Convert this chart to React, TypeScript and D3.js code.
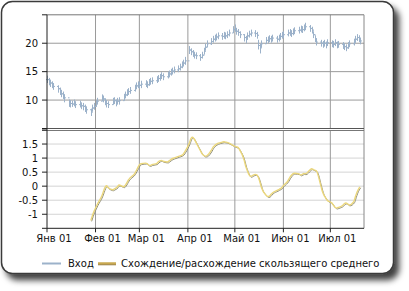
import React from "react";
import * as d3 from "d3";

// ---------- DATA ----------
const startDate = new Date(2007, 0, 1);
const endDate = new Date(2007, 6, 21);
const monthTicks = ["Янв 01", "Фев 01", "Мар 01", "Апр 01", "Май 01", "Июн 01", "Июл 01"];
const topTicks = [10, 15, 20];
const bottomTicks = [-1, -0.5, 0, 0.5, 1, 1.5];

// Input series (trading days), high / low / close
const highs = [
  14.3, 13.9, 13.6, 13.3, 13.0, 12.6, 12.2, 11.8, 11.5, 11.0,
  10.1, 10.0, 9.9, 10.1, 9.8, 9.9, 9.6, 9.5, 9.2, 8.9,
  8.5, 9.2, 9.5, 10.0, 10.4, 11.0, 10.8, 10.3, 10.0, 9.8,
  10.4, 10.5, 10.1, 10.4, 10.5, 11.1, 11.5, 11.9, 12.1, 12.3,
  12.7, 13.1, 13.3, 13.2, 13.4, 13.5, 13.3, 13.7, 13.9, 14.0,
  14.2, 14.4, 14.6, 14.9, 14.7, 15.0, 15.2, 15.5, 15.7, 15.9,
  16.1, 16.4, 16.8, 17.1, 17.6, 19.5, 19.1, 18.8, 18.5, 18.4,
  18.1, 18.5, 19.2, 19.9, 20.5, 20.9, 21.3, 21.5, 21.7, 21.9,
  21.8, 22.0, 21.9, 22.1, 22.4, 23.0, 23.3, 22.7, 22.5, 22.1,
  21.6, 21.3, 21.9, 22.2, 22.4, 22.3, 22.0, 20.6, 19.9, 20.5,
  21.1, 21.2, 21.4, 21.3, 21.5, 21.3, 21.5, 21.8, 22.0, 22.1,
  22.4, 22.5, 22.3, 22.6, 22.8, 22.9, 23.1, 23.0, 23.3, 23.6,
  23.2, 22.9, 22.1, 21.4, 20.8, 20.6, 20.4, 20.6, 20.3, 20.7,
  20.5, 20.4, 20.7, 20.3, 20.4, 20.2, 20.0, 19.8, 20.2, 20.5,
  20.8, 21.3, 21.6, 21.4, 21.0,
];
const lows = [
  13.0, 12.6, 12.3, 12.1, 11.8, 11.3, 10.9, 10.5, 10.2, 9.6,
  8.8, 8.7, 8.8, 8.9, 8.6, 8.7, 8.4, 8.2, 7.9, 7.6,
  7.2, 8.0, 8.3, 8.8, 9.2, 9.8, 9.6, 9.1, 8.7, 8.6,
  9.2, 9.3, 8.9, 9.2, 9.2, 9.9, 10.3, 10.7, 10.9, 11.1,
  11.5, 11.9, 12.1, 12.0, 12.1, 12.3, 12.1, 12.5, 12.7, 12.8,
  13.0, 13.2, 13.4, 13.7, 13.5, 13.8, 14.0, 14.3, 14.5, 14.7,
  14.9, 15.2, 15.6, 15.9, 16.2, 18.1, 17.9, 17.6, 17.3, 17.2,
  16.9, 17.3, 18.0, 18.7, 19.3, 19.7, 20.1, 20.3, 20.5, 20.7,
  20.6, 20.8, 20.7, 20.9, 21.2, 21.8, 22.0, 21.5, 21.3, 20.9,
  20.3, 20.0, 20.7, 21.0, 21.2, 21.1, 20.8, 18.9, 18.2, 19.3,
  19.9, 20.0, 20.2, 20.1, 20.3, 20.1, 20.3, 20.6, 20.8, 20.9,
  21.2, 21.3, 21.1, 21.4, 21.6, 21.7, 21.9, 21.8, 22.1, 22.3,
  22.0, 21.7, 20.9, 20.2, 19.6, 19.4, 19.2, 19.4, 19.1, 19.5,
  19.3, 19.2, 19.5, 19.1, 19.2, 19.0, 18.8, 18.6, 19.0, 19.3,
  19.6, 20.1, 20.4, 20.2, 19.8,
];
const closes = [
  13.6, 13.3, 13.0, 12.8, 12.4, 12.0, 11.6, 11.1, 10.9, 10.4,
  9.6, 9.4, 9.3, 9.5, 9.2, 9.3, 9.0, 8.9, 8.6, 8.3,
  7.9, 8.6, 8.9, 9.4, 9.8, 10.4, 10.2, 9.7, 9.4, 9.2,
  9.8, 9.9, 9.5, 9.8, 9.9, 10.5, 10.9, 11.3, 11.5, 11.7,
  12.1, 12.5, 12.7, 12.6, 12.8, 12.9, 12.7, 13.1, 13.3, 13.4,
  13.6, 13.8, 14.0, 14.3, 14.1, 14.4, 14.6, 14.9, 15.1, 15.3,
  15.5, 15.8, 16.2, 16.5, 16.9, 18.8, 18.5, 18.2, 17.9, 17.8,
  17.5, 17.9, 18.6, 19.3, 19.9, 20.3, 20.7, 20.9, 21.1, 21.3,
  21.2, 21.4, 21.3, 21.5, 21.8, 22.4, 22.6, 22.1, 21.9, 21.5,
  21.0, 20.7, 21.3, 21.6, 21.8, 21.7, 21.4, 19.6, 19.2, 19.9,
  20.5, 20.6, 20.8, 20.7, 20.9, 20.7, 20.9, 21.2, 21.4, 21.5,
  21.8, 21.9, 21.7, 22.0, 22.2, 22.3, 22.5, 22.4, 22.7, 22.9,
  22.6, 22.3, 21.5, 20.8, 20.2, 20.0, 19.8, 20.0, 19.7, 20.1,
  19.9, 19.8, 20.1, 19.7, 19.8, 19.6, 19.4, 19.2, 19.6, 19.9,
  20.2, 20.7, 21.0, 20.8, 20.4,
];

// Moving-average convergence/divergence, starting at trading day index 20 (Jan 29)
const macdStartIndex = 20;
const macdValues = [
  -1.22, -1.05, -0.9, -0.78, -0.66,
  -0.35, -0.2, -0.05, 0.02, -0.05,
  -0.13, -0.1, -0.07, -0.02, 0.04,
  -0.02, 0.03, 0.12, 0.22, 0.29,
  0.45, 0.55, 0.66, 0.76, 0.8,
  0.82, 0.8, 0.75, 0.74, 0.77,
  0.8, 0.86, 0.9, 0.92, 0.89,
  0.86, 0.9, 0.94, 0.98, 1.0,
  1.06, 1.08, 1.1, 1.14, 1.22,
  1.55, 1.7, 1.74, 1.68, 1.58,
  1.26, 1.16, 1.1, 1.07, 1.08,
  1.28, 1.38, 1.44, 1.49, 1.52,
  1.57, 1.58, 1.57, 1.56, 1.54,
  1.45, 1.42, 1.4, 1.38, 1.3,
  0.92, 0.7, 0.55, 0.42, 0.35,
  0.42, 0.4, 0.32, 0.15, -0.05,
  -0.32, -0.37, -0.36, -0.3, -0.24,
  -0.15, -0.12, -0.09, -0.05, 0.02,
  0.2, 0.3, 0.38, 0.44, 0.46,
  0.44, 0.4, 0.42, 0.45, 0.44,
  0.58, 0.62, 0.6, 0.57, 0.55,
  0.0, -0.2, -0.33, -0.42, -0.5,
  -0.6, -0.68, -0.75, -0.78, -0.76,
  -0.68, -0.62, -0.6, -0.63, -0.67,
  -0.55, -0.38, -0.22, -0.1, -0.03,
];

const legendLabels = ["Вход", "Схождение/расхождение скользящего среднего"];

// ---------- LAYOUT ----------
const W = 409;
const H = 291;
const left = 47;
const right = 364;
const topY0 = 14.8;
const topY1 = 128.5;
const botY0 = 130.5;
const botY1 = 228.3;
const FONT = "'DejaVu Sans', Verdana, sans-serif";

export default function App() {
  const days = d3
    .timeDay.range(startDate, d3.timeDay.offset(endDate, 0))
    .filter((d) => d.getDay() !== 0 && d.getDay() !== 6);

  const x = d3
    .scaleTime()
    .domain([startDate, new Date(2007, 6, 22, 12)])
    .range([left, right]);
  const yTop = d3.scaleLinear().domain([5, 25]).range([topY1, topY0]);
  const yBot = d3.scaleLinear().domain([-1.5, 2]).range([botY1, botY0 - 0.5]);

  const months = d3.timeMonth.range(startDate, new Date(2007, 7, 1)).slice(0, monthTicks.length);

  const macdPts = macdValues.map((v, i) => [days[macdStartIndex + i], v] as [Date, number]);
  const line = d3
    .line<[Date, number]>()
    .x((d) => x(d[0]))
    .y((d) => yBot(d[1]))
    .curve(d3.curveMonotoneX);
  const macdPath = line(macdPts) || "";

  const gridDark = "#9a9a9a";
  const gridLight = "#d4d4d4";
  const axis = "#202020";
  const inputColor = "#9cb2ca";

  return (
    <svg
      width={W}
      height={H}
      style={{ position: "absolute", left: 0, top: 0 }}
      fontFamily={FONT}
    >
      <defs>
        <filter id="shadow" x="-5%" y="-5%" width="115%" height="120%">
          <feDropShadow dx="5" dy="6" stdDeviation="3" floodColor="#000" floodOpacity="0.75" />
        </filter>
      </defs>
      <rect x={1.5} y={1.5} width={392} height={272} rx={11} fill="#fff" stroke="#3a3a3a" strokeWidth={1.5} filter="url(#shadow)" />

      {/* top panel grid */}
      {topTicks.map((t) => (
        <line key={"tg" + t} x1={left} x2={right} y1={yTop(t)} y2={yTop(t)} stroke={gridDark} strokeWidth={1} />
      ))}
      {/* bottom panel grid */}
      {bottomTicks.map((t) => (
        <line key={"bg" + t} x1={left} x2={right} y1={yBot(t)} y2={yBot(t)} stroke={gridLight} strokeWidth={1} />
      ))}
      {months.slice(1).map((m, i) => (
        <g key={"vg" + i}>
          <line x1={x(m)} x2={x(m)} y1={topY0} y2={topY1} stroke={gridDark} strokeWidth={1} />
          <line x1={x(m)} x2={x(m)} y1={botY0} y2={botY1} stroke={gridDark} strokeWidth={1} />
        </g>
      ))}

      {/* panel borders */}
      <line x1={left} x2={right} y1={topY0} y2={topY0} stroke="#777" strokeWidth={1} />
      <line x1={right} x2={right} y1={topY0} y2={botY1} stroke="#888" strokeWidth={1} />
      <line x1={left - 5} x2={right} y1={topY1} y2={topY1} stroke="#555" strokeWidth={1} />
      <line x1={left - 5} x2={right} y1={botY0} y2={botY0} stroke="#777" strokeWidth={1} />

      {/* input series */}
      <g stroke={inputColor} strokeWidth={1}>
        {days.map((d, i) => {
          const cx = Math.round(x(d)) + 0.5;
          const prev = i > 0 ? closes[i - 1] : closes[i];
          return (
            <g key={"b" + i}>
              <line x1={cx} x2={cx} y1={yTop(highs[i])} y2={yTop(lows[i])} />
              <line x1={cx - 1.5} x2={cx} y1={yTop(prev)} y2={yTop(prev)} />
              <line x1={cx} x2={cx + 1.5} y1={yTop(closes[i])} y2={yTop(closes[i])} />
            </g>
          );
        })}
      </g>

      {/* macd */}
      <path d={macdPath} fill="none" stroke="#8e8c78" strokeWidth={1} transform="translate(0.8,0.9)" />
      <path d={macdPath} fill="none" stroke="#ebd77c" strokeWidth={1.4} />

      {/* axes */}
      <line x1={left} x2={left} y1={topY0} y2={botY1} stroke={axis} strokeWidth={1} />
      <line x1={left} x2={right} y1={botY1} y2={botY1} stroke={axis} strokeWidth={1} />
      {[5, ...topTicks, 25].map((t) => (
        <line key={"tt" + t} x1={left - 5} x2={left} y1={yTop(t)} y2={yTop(t)} stroke={axis} />
      ))}
      {[-1.5, ...bottomTicks, 2].map((t) => (
        <line key={"bt" + t} x1={left - 5} x2={left} y1={yBot(t)} y2={yBot(t)} stroke={axis} />
      ))}
      {topTicks.map((t) => (
        <text key={"tl" + t} x={38} y={yTop(t)} dy="0.36em" textAnchor="end" fontSize={10} fill="#111">
          {t}
        </text>
      ))}
      {bottomTicks.map((t) => (
        <text key={"bl" + t} x={38} y={yBot(t)} dy="0.36em" textAnchor="end" fontSize={10} fill="#111">
          {t}
        </text>
      ))}
      {months.map((m, i) => (
        <g key={"xl" + i}>
          <line x1={x(m)} x2={x(m)} y1={botY1} y2={botY1 + 4} stroke={axis} />
          <text x={x(m) + 7} y={241.5} textAnchor="middle" fontSize={10} fill="#111">
            {monthTicks[i]}
          </text>
        </g>
      ))}

      {/* legend */}
      <line x1={42} x2={61} y1={263.5} y2={263.5} stroke={inputColor} strokeWidth={2} />
      <text x={68} y={267} fontSize={10} fill="#111">{legendLabels[0]}</text>
      <line x1={98} x2={116} y1={263.5} y2={263.5} stroke="#c8a850" strokeWidth={2.5} />
      <line x1={98} x2={116} y1={264.8} y2={264.8} stroke="#8a7030" strokeWidth={0.8} />
      <text x={121} y={267} fontSize={10} fill="#111">{legendLabels[1]}</text>
    </svg>
  );
}
